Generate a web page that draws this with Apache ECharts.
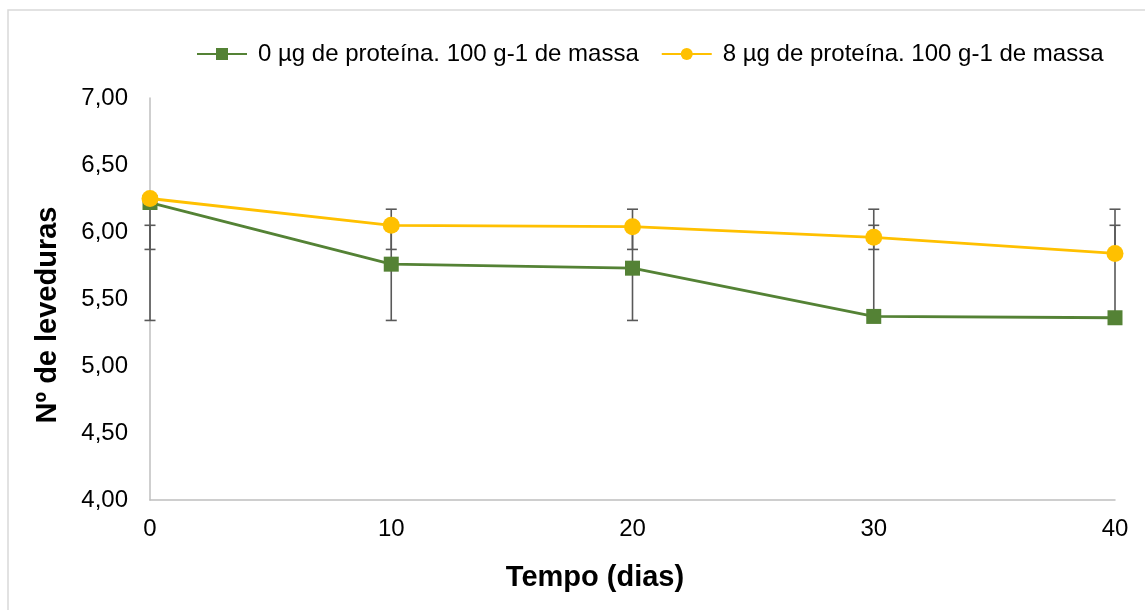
<!DOCTYPE html>
<html>
<head>
<meta charset="utf-8">
<script src="https://cdn.jsdelivr.net/npm/echarts@6/dist/echarts.min.js"></script>
<style>
html,body{margin:0;padding:0;background:#fff;}
#chart{width:1145px;height:610px;}
</style>
</head>
<body>
<div id="chart"></div>
<script>
var days = [0, 10, 20, 30, 40];
var seriesNames = ['0 µg de proteína. 100 g-1 de massa', '8 µg de proteína. 100 g-1 de massa'];
var green = [6.22, 5.76, 5.73, 5.37, 5.36];
var yellow = [6.25, 6.05, 6.04, 5.96, 5.84];
var greenErrLow = [5.34, 5.34, 5.34, 5.34, 5.34];
var greenErrHigh = [6.05, 6.05, 6.05, 6.05, 6.05];
var yellowErrLow = [5.87, 5.87, 5.87, 5.87, 5.87];
var yellowErrHigh = [6.17, 6.17, 6.17, 6.17, 6.17];
var yTicks = [4.0, 7.0, 0.5];
var xLabel = 'Tempo (dias)';
var yLabel = 'Nº de leveduras';

var FONT = '"Liberation Sans", Arial, sans-serif';
var chart = echarts.init(document.getElementById('chart'), null, {renderer: 'canvas'});

function errData(lo, hi) {
  return days.map(function (d, i) { return [d, lo[i], hi[i]]; });
}
function errRender(params, api) {
  var x = api.value(0);
  var p1 = api.coord([x, api.value(1)]);
  var p2 = api.coord([x, api.value(2)]);
  var hw = 5.5;
  var st = {stroke: '#595959', lineWidth: 1.6};
  return {
    type: 'group',
    children: [
      {type: 'line', shape: {x1: p1[0], y1: p1[1], x2: p2[0], y2: p2[1]}, style: st},
      {type: 'line', shape: {x1: p1[0] - hw, y1: p1[1], x2: p1[0] + hw, y2: p1[1]}, style: st},
      {type: 'line', shape: {x1: p2[0] - hw, y1: p2[1], x2: p2[0] + hw, y2: p2[1]}, style: st}
    ]
  };
}

var option = {
  animation: false,
  backgroundColor: '#fff',
  grid: {left: 150, right: 30, top: 98, bottom: 110},
  legend: {
    data: seriesNames,
    left: 191,
    top: 37,
    itemWidth: 50,
    itemHeight: 15,
    itemGap: 22,
    textStyle: {fontFamily: FONT, fontSize: 24, color: '#000', padding: [0, 0, 0, 6]}
  },
  xAxis: {
    type: 'value',
    min: 0, max: 40, interval: 10,
    axisLine: {show: true, lineStyle: {color: '#BFBFBF', width: 1.5}},
    axisTick: {show: false},
    splitLine: {show: false},
    axisLabel: {fontFamily: FONT, fontSize: 24, color: '#000', margin: 17}
  },
  yAxis: {
    type: 'value',
    min: yTicks[0], max: yTicks[1], interval: yTicks[2],
    axisLine: {show: true, lineStyle: {color: '#BFBFBF', width: 1.5}},
    axisTick: {show: false},
    splitLine: {show: false},
    axisLabel: {
      fontFamily: FONT, fontSize: 24, color: '#000', margin: 22,
      formatter: function (v) { return v.toFixed(2).replace('.', ','); }
    }
  },
  graphic: [
    {type: 'rect', silent: true, z: -10, shape: {x: 8, y: 10, width: 1300, height: 800},
     style: {fill: 'none', stroke: '#D9D9D9', lineWidth: 1.5}},
    {type: 'text', x: 595, y: 578, style: {text: xLabel, font: 'bold 29px ' + FONT, fill: '#000', textAlign: 'center', textVerticalAlign: 'middle'}},
    {type: 'text', x: 48, y: 315, rotation: Math.PI / 2, style: {text: yLabel, font: 'bold 29px ' + FONT, fill: '#000', textAlign: 'center', textVerticalAlign: 'middle'}}
  ],
  series: [
    {type: 'custom', name: 'errG', renderItem: errRender, data: errData(greenErrLow, greenErrHigh), z: 1, silent: true},
    {type: 'custom', name: 'errY', renderItem: errRender, data: errData(yellowErrLow, yellowErrHigh), z: 1, silent: true},
    {
      name: seriesNames[0], type: 'line', z: 3,
      data: days.map(function (d, i) { return [d, green[i]]; }),
      symbol: 'rect', symbolSize: 15, showAllSymbol: true,
      lineStyle: {color: '#548235', width: 2.8},
      itemStyle: {color: '#548235'},
      emphasis: {disabled: true}
    },
    {
      name: seriesNames[1], type: 'line', z: 4,
      data: days.map(function (d, i) { return [d, yellow[i]]; }),
      symbol: 'circle', symbolSize: 17, showAllSymbol: true,
      lineStyle: {color: '#FFC000', width: 2.8},
      itemStyle: {color: '#FFC000'},
      emphasis: {disabled: true}
    }
  ]
};
chart.setOption(option);
</script>
</body>
</html>
